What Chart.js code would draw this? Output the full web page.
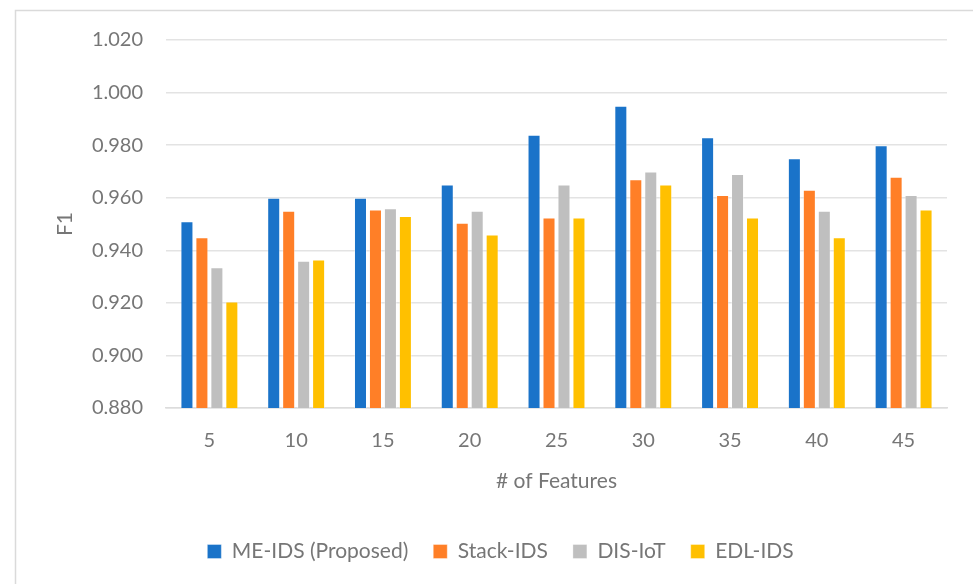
<!DOCTYPE html>
<html>
<head>
<meta charset="utf-8">
<script src="https://cdn.jsdelivr.net/npm/chart.js@4/dist/chart.umd.min.js"></script>
<style>
  html, body { margin: 0; padding: 0; background: #ffffff; }
  #wrap { width: 973px; height: 584px; position: relative; }
</style>
</head>
<body>
<div id="wrap"><canvas id="chart" width="973" height="584"></canvas></div>
<script>
// Number of selected features on the x axis
const features = ['5', '10', '15', '20', '25', '30', '35', '40', '45'];

// F1 score per method
const meIds   = [0.951, 0.960, 0.960, 0.965, 0.984, 0.995, 0.983, 0.975, 0.980];
const stackIds = [0.945, 0.955, 0.9555, 0.9505, 0.9525, 0.967, 0.961, 0.963, 0.968];
const disIot  = [0.9335, 0.936, 0.956, 0.955, 0.965, 0.970, 0.969, 0.955, 0.961];
const edlIds  = [0.9205, 0.9365, 0.953, 0.946, 0.9525, 0.965, 0.9525, 0.945, 0.9555];

const seriesNames = ['ME-IDS (Proposed)', 'Stack-IDS', 'DIS-IoT', 'EDL-IDS'];
const seriesColors = ['#1a73c9', '#ff7f27', '#bfbfbf', '#ffc000'];

const textColor = '#767676';
const fontFamily = 'Lato, "Open Sans", sans-serif';

// thin frame along the top and left edge of the figure
const framePlugin = {
  id: 'frame',
  beforeDraw(chart) {
    const ctx = chart.ctx;
    ctx.save();
    ctx.strokeStyle = '#dadada';
    ctx.lineWidth = 1.5;
    ctx.beginPath();
    ctx.moveTo(15.5, chart.height);
    ctx.lineTo(15.5, 10.5);
    ctx.lineTo(chart.width, 10.5);
    ctx.stroke();
    ctx.restore();
  }
};

// centre the legend on the full figure width rather than the padded area
const legendShift = {
  id: 'legendShift',
  afterLayout(chart) {
    const lg = chart.legend;
    if (!lg) return;
    const dx = (chart.width - (lg.left + lg.right)) / 2 + 14;
    lg.left += dx;
    lg.right += dx;
  }
};

const data = {
  labels: features,
  datasets: [meIds, stackIds, disIot, edlIds].map((vals, i) => ({
    label: seriesNames[i],
    data: vals,
    backgroundColor: seriesColors[i],
    borderColor: 'rgba(255,255,255,0.35)',
    borderWidth: 1,
    categoryPercentage: 0.69,
    barPercentage: 0.87
  }))
};

new Chart(document.getElementById('chart'), {
  type: 'bar',
  data: data,
  plugins: [framePlugin, legendShift],
  options: {
    responsive: false,
    animation: false,
    layout: { padding: { top: 40, right: 26, bottom: 12, left: 0 } },
    plugins: {
      tooltip: { enabled: false },
      legend: {
        position: 'bottom',
        labels: {
          color: textColor,
          font: { family: fontFamily, size: 21 },
          boxWidth: 14,
          boxHeight: 14,
          padding: 25
        }
      }
    },
    scales: {
      x: {
        grid: { display: false, drawTicks: false },
        border: { color: '#dcdcdc', width: 1.5 },
        ticks: {
          color: textColor,
          font: { family: fontFamily, size: 20 },
          padding: 21
        },
        title: {
          display: true,
          text: '# of Features',
          color: textColor,
          font: { family: fontFamily, size: 21 },
          padding: { top: 4, bottom: 22 }
        },
        afterFit(scale) { scale.height = 108; }
      },
      y: {
        min: 0.88,
        max: 1.02,
        grid: { color: '#e3e3e3', lineWidth: 1.5, drawTicks: false },
        border: { display: false },
        ticks: {
          stepSize: 0.02,
          color: textColor,
          font: { family: fontFamily, size: 20 },
          padding: 23,
          callback: v => Number(v).toFixed(3)
        },
        title: {
          display: true,
          text: 'F1',
          color: textColor,
          font: { family: fontFamily, size: 21 },
          padding: { top: 53 }
        },
        afterFit(scale) { scale.width = 166; }
      }
    }
  }
});
</script>
</body>
</html>
